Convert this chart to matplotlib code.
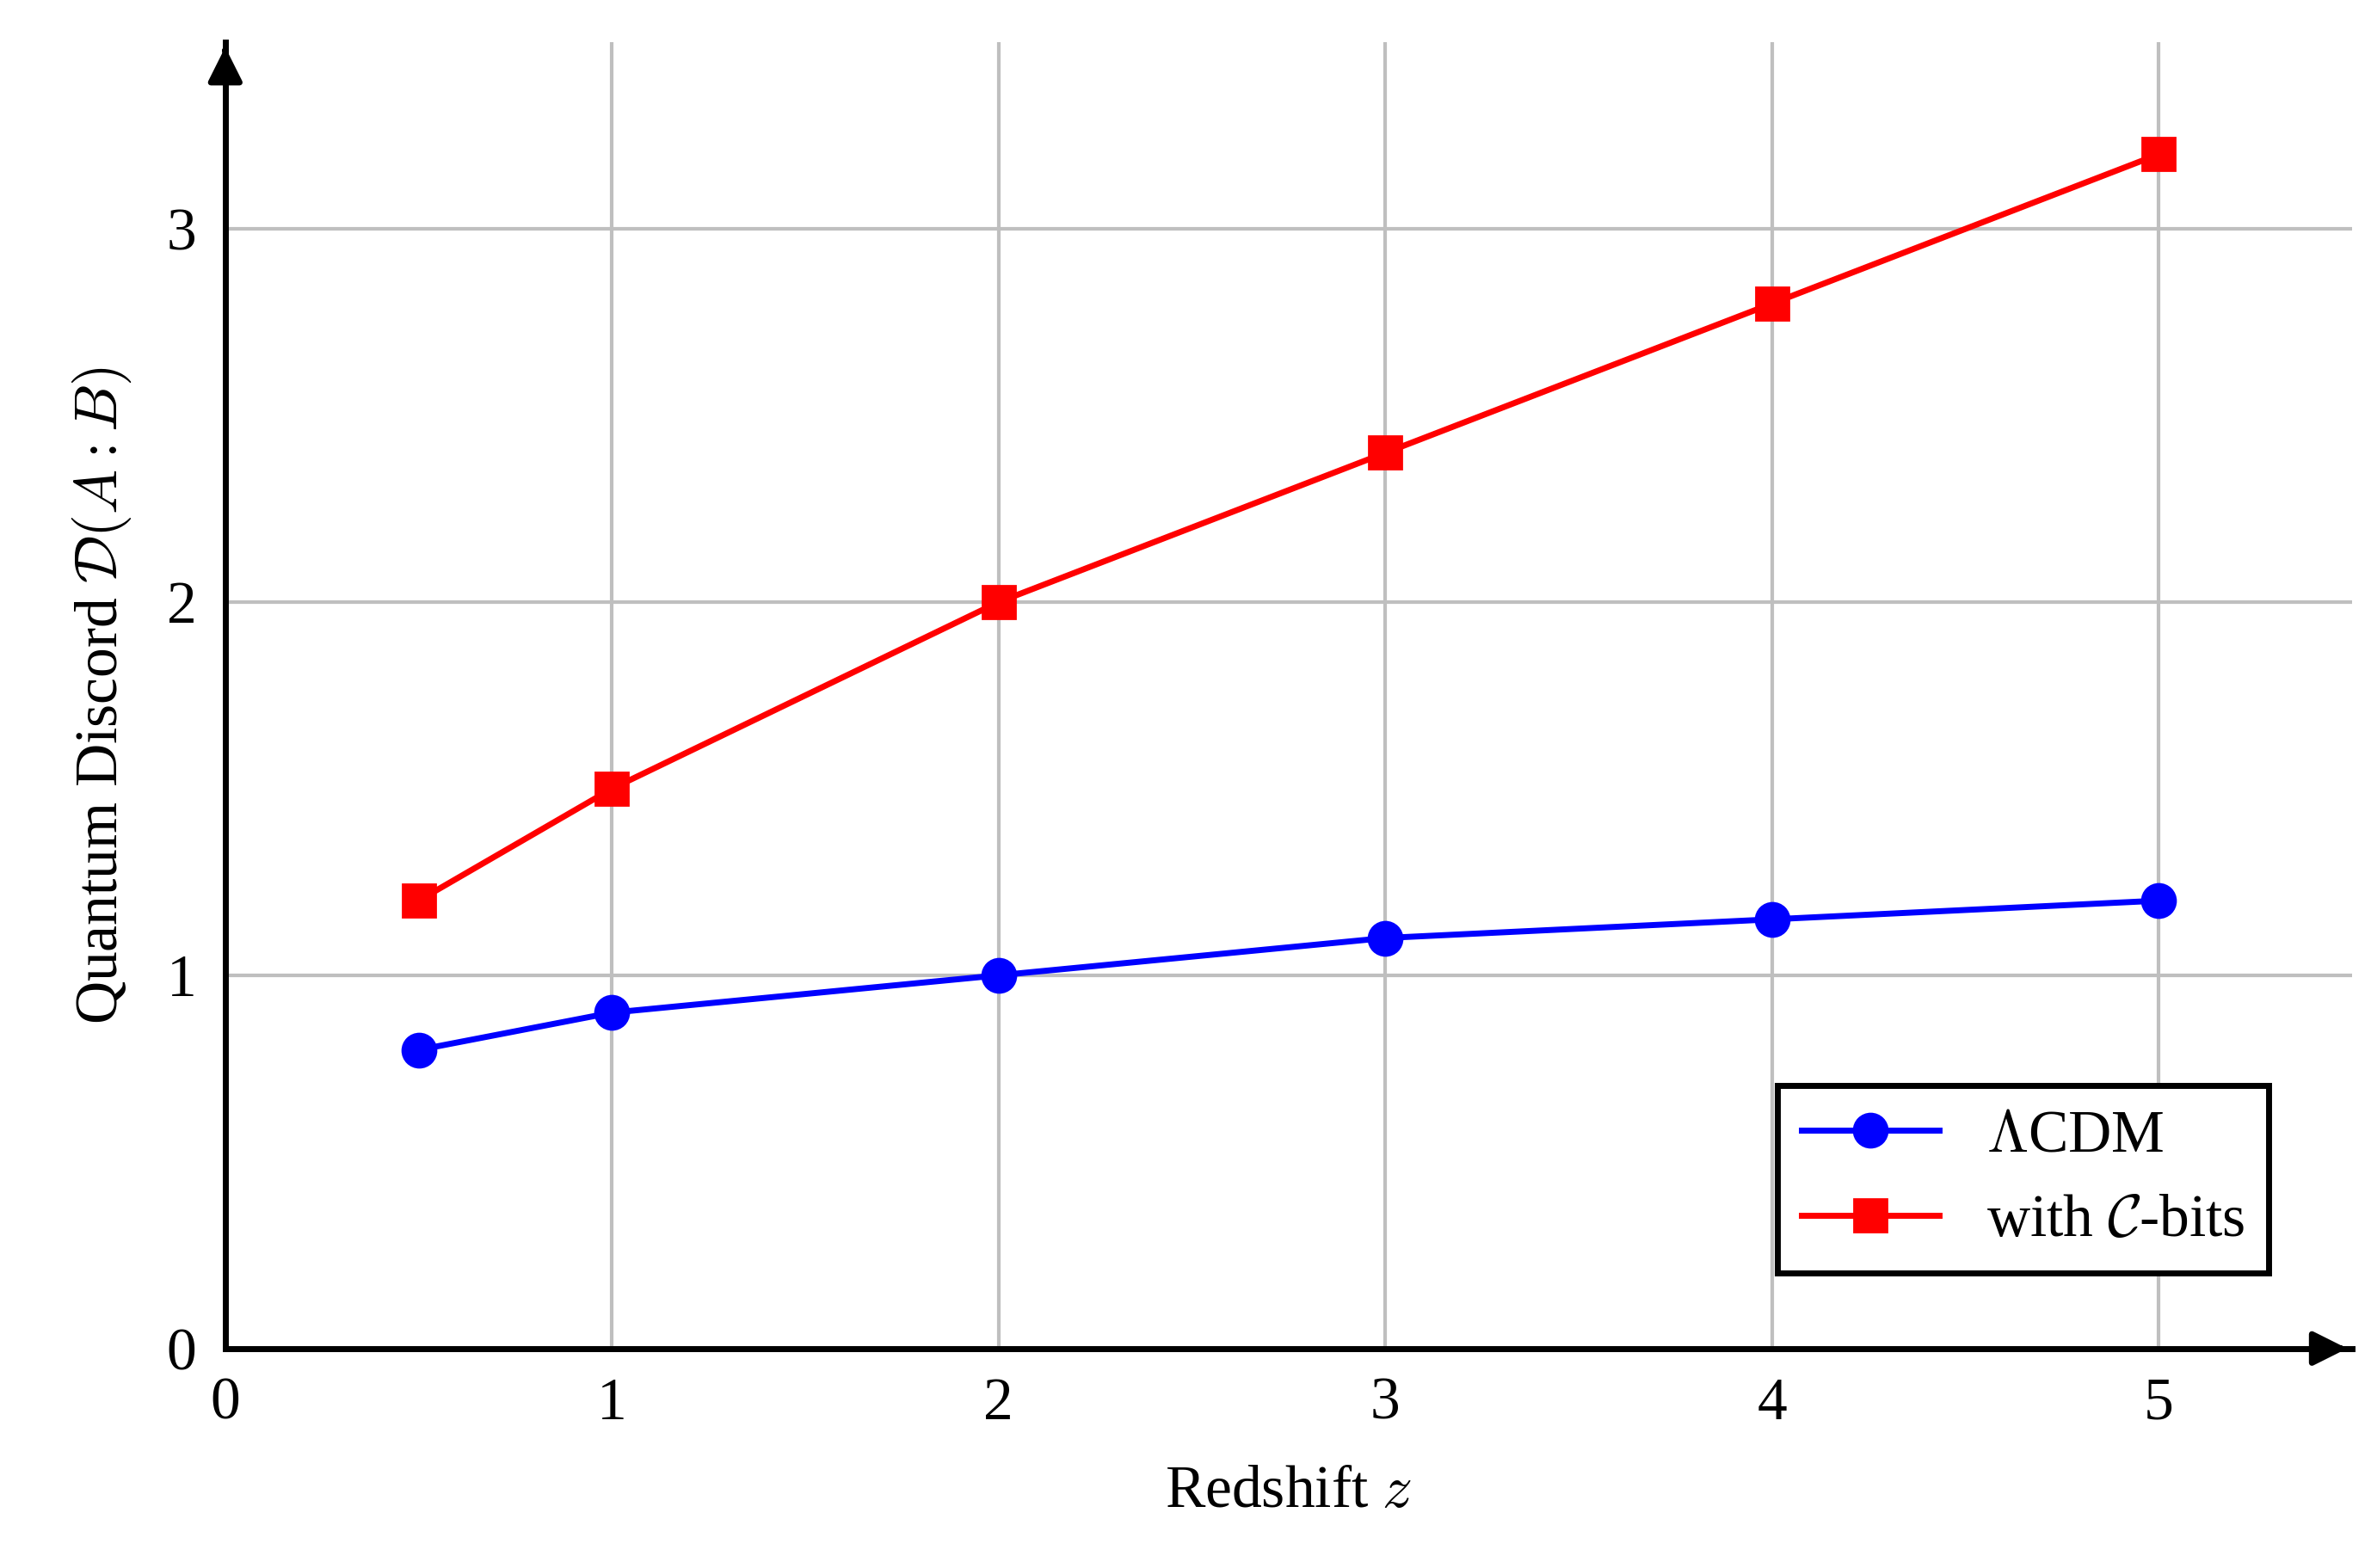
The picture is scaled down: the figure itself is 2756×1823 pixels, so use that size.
import matplotlib
matplotlib.use("Agg")
import matplotlib.pyplot as plt

z = [0.5, 1, 2, 3, 4, 5]
lcdm = [0.8, 0.9, 1.0, 1.1, 1.15, 1.2]
cbits = [1.2, 1.5, 2.0, 2.4, 2.8, 3.2]
xticks = [0, 1, 2, 3, 4, 5]
yticks = [0, 1, 2, 3]

plt.rcParams['font.family'] = ['Liberation Serif', 'DejaVu Serif']
plt.rcParams['mathtext.fontset'] = 'cm'

fig = plt.figure(figsize=(13.78, 9.115), dpi=200)
ax = fig.add_axes([0.095, 0.140, 0.897, 0.833])
ax.set_xlim(0, 5.5)
ax.set_ylim(0, 3.5)
ax.set_xticks(xticks)
ax.set_yticks(yticks)
ax.grid(True, color='#bfbfbf', linewidth=1.5)
ax.set_axisbelow(True)
for s in ['top', 'right']:
    ax.spines[s].set_visible(False)
for s in ['left', 'bottom']:
    ax.spines[s].set_linewidth(2.5)
ax.annotate('', xy=(1.0, 0), xycoords='axes fraction', xytext=(0.99, 0),
            arrowprops=dict(arrowstyle='-|>', color='black', lw=2.5, mutation_scale=30))
ax.annotate('', xy=(0, 1.0), xycoords='axes fraction', xytext=(0, 0.99),
            arrowprops=dict(arrowstyle='-|>', color='black', lw=2.5, mutation_scale=30))
ax.tick_params(labelsize=25, length=0, pad=12)

ax.plot(z, lcdm, '-o', color='blue', lw=2.5, ms=14, label=r'$\Lambda$CDM', clip_on=False)
ax.plot(z, cbits, '-s', color='red', lw=2.5, ms=14, label=r'with $\mathcal{C}$-bits', clip_on=False)

ax.set_xlabel(r'Redshift $z$', fontsize=25, labelpad=14)
ax.set_ylabel(r'Quantum Discord $\mathcal{D}(A:B)$', fontsize=25, labelpad=14)

leg = ax.legend(loc='lower right', bbox_to_anchor=(0.975, 0.035), fontsize=25, fancybox=False,
                framealpha=1, edgecolor='black', handlelength=2.3, borderpad=0.4)
leg.get_frame().set_linewidth(2.5)

fig.savefig('out.png', dpi=200)
